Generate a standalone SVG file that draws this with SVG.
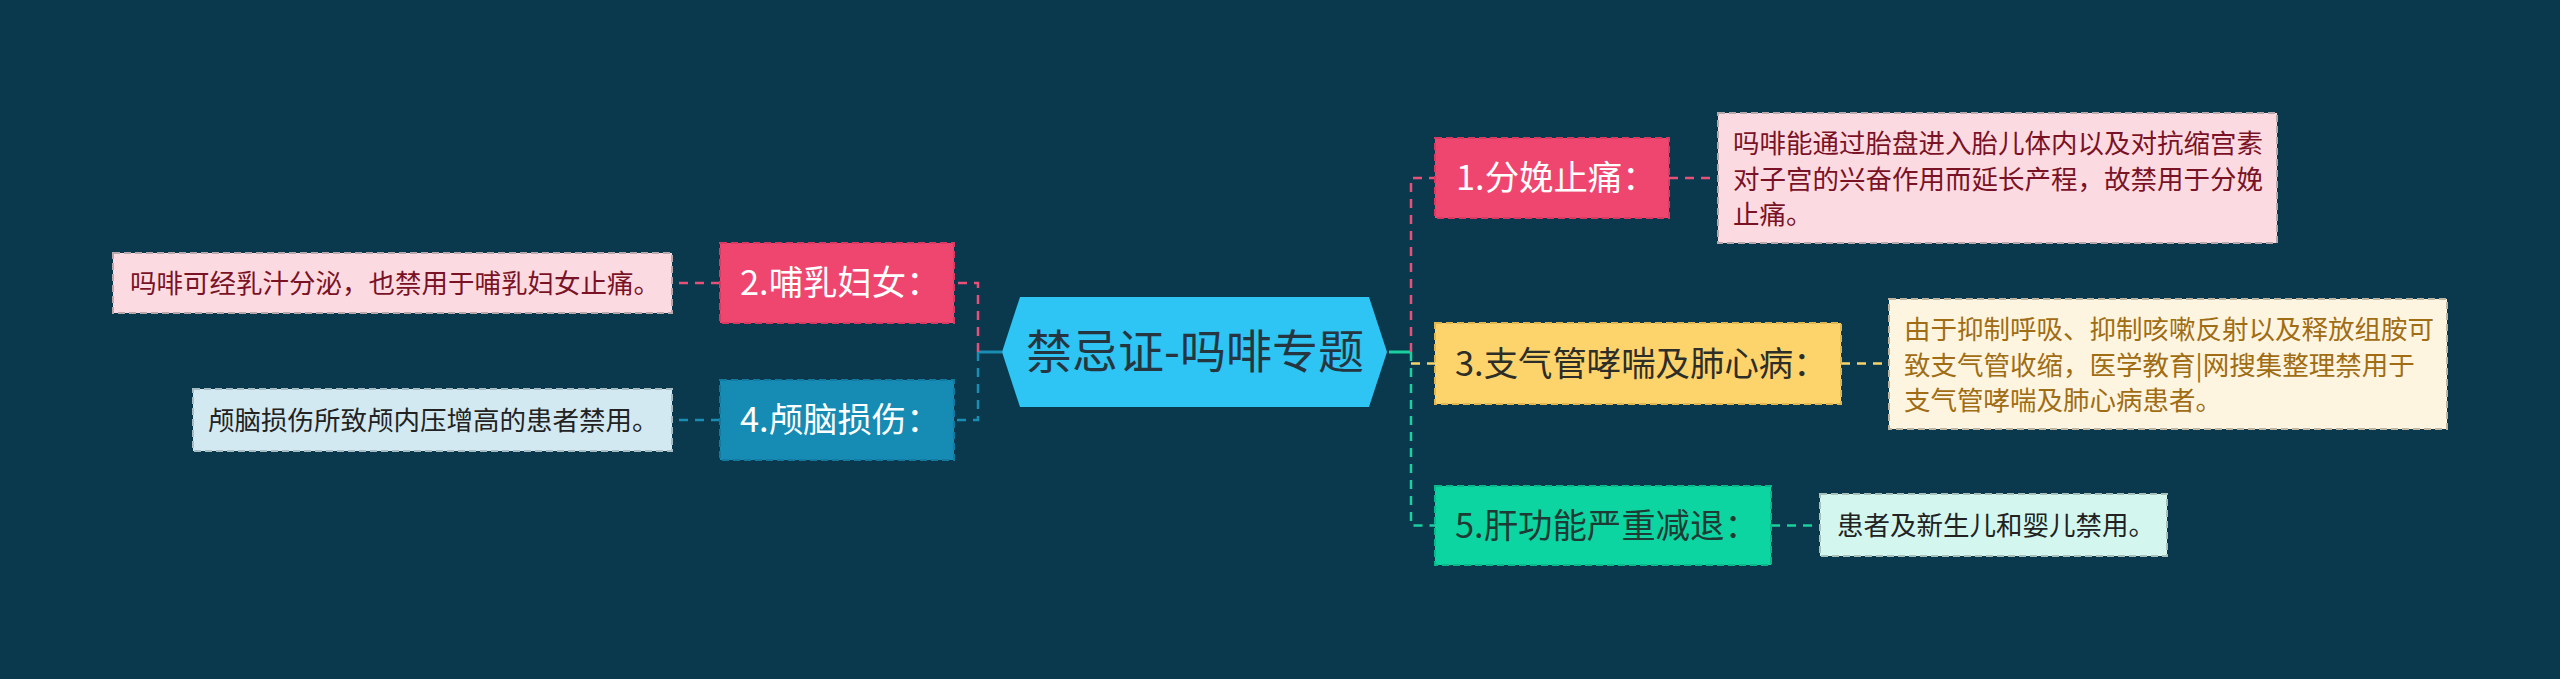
<svg xmlns="http://www.w3.org/2000/svg" width="2560" height="679" viewBox="0 0 2560 679">
<style>
text{font-family:"Noto Sans CJK SC","Noto Sans",sans-serif;}
.n{stroke-width:2;stroke-dasharray:7 4;}
.t{font-size:26.5px;}
.d{fill:none;stroke-width:2.5;stroke-dasharray:9 7;}
.s{fill:none;stroke-width:3;}
.nt{font-size:34.4px;}
</style>
<rect width="2560" height="679" fill="#0a394d"/>
<g id="connectors">
<path class="s" d="M1389,352 H1411" stroke="#1bd0a0"/>
<path class="d" d="M1411,352 V178 H1435" stroke="#e8507a"/>
<path class="d" d="M1411,363.5 H1435" stroke="#f7d36e"/>
<path class="d" d="M1411,352 V525.5 H1435" stroke="#1bd0a0"/>
<path class="d" d="M1669,178 H1718" stroke="#e8507a"/>
<path class="d" d="M1841,363.5 H1889" stroke="#f7d36e"/>
<path class="d" d="M1771,525.5 H1820" stroke="#1bd0a0"/>
<path class="s" d="M1002,352 H978" stroke="#1a8db3"/>
<path class="d" d="M978,352 V283 H954" stroke="#e8507a"/>
<path class="d" d="M978,352 V420 H954" stroke="#1a8db3"/>
<path class="d" d="M720,283 H672" stroke="#e8507a"/>
<path class="d" d="M720,420 H672" stroke="#1a8db3"/>
</g>
<g id="center">
<polygon points="1002,352 1020,297 1369,297 1387,352 1369,407 1020,407" fill="#2ec4f3"/>
<text x="1195" y="368" font-size="46" text-anchor="middle" fill="#263640">禁忌证-吗啡专题</text>
</g>
<g id="node1">
<rect class="n" x="1435" y="138" width="234" height="80" fill="#ef4670" stroke="#d93a62"/>
<text class="nt" x="1456" y="190" fill="#ffffff">1.分娩止痛：</text>
</g>
<g id="note1">
<rect class="n" x="1718" y="113" width="559" height="130" fill="#fbdae1" stroke="#b8a8ac"/>
<text class="t" fill="#7a1226"><tspan x="1733" y="153">吗啡能通过胎盘进入胎儿体内以及对抗缩宫素</tspan><tspan x="1733" y="188.5">对子宫的兴奋作用而延长产程，故禁用于分娩</tspan><tspan x="1733" y="224">止痛。</tspan></text>
</g>
<g id="node3">
<rect class="n" x="1435" y="323" width="406" height="81" fill="#fdd36c" stroke="#e0b650"/>
<text class="nt" x="1455" y="376" fill="#2e2e28">3.支气管哮喘及肺心病：</text>
</g>
<g id="note3">
<rect class="n" x="1889" y="299" width="558" height="130" fill="#fdf5e0" stroke="#bdb5a0"/>
<text class="t" fill="#a06d14"><tspan x="1904" y="339">由于抑制呼吸、抑制咳嗽反射以及释放组胺可</tspan><tspan x="1904" y="374.5">致支气管收缩，医学教育|网搜集整理禁用于</tspan><tspan x="1904" y="410">支气管哮喘及肺心病患者。</tspan></text>
</g>
<g id="node5">
<rect class="n" x="1435" y="486" width="336" height="79" fill="#0dd5a1" stroke="#0bb88a"/>
<text class="nt" x="1455" y="538" fill="#1e3a34">5.肝功能严重减退：</text>
</g>
<g id="note5">
<rect class="n" x="1820" y="494" width="347" height="62" fill="#d3f7ef" stroke="#a8c0ba"/>
<text class="t" x="1837" y="535" fill="#222222">患者及新生儿和婴儿禁用。</text>
</g>
<g id="node2">
<rect class="n" x="720" y="243" width="234" height="80" fill="#ef4670" stroke="#d93a62"/>
<text class="nt" x="740" y="295" fill="#ffffff">2.哺乳妇女：</text>
</g>
<g id="note2">
<rect class="n" x="113" y="253" width="559" height="60" fill="#fbdae1" stroke="#b8a8ac"/>
<text class="t" x="130" y="292.5" fill="#7a1226">吗啡可经乳汁分泌，也禁用于哺乳妇女止痛。</text>
</g>
<g id="node4">
<rect class="n" x="720" y="380" width="234" height="80" fill="#168cb4" stroke="#127aa0"/>
<text class="nt" x="740" y="432" fill="#ffffff">4.颅脑损伤：</text>
</g>
<g id="note4">
<rect class="n" x="193" y="389" width="479" height="62" fill="#d3e9f1" stroke="#a8bcc4"/>
<text class="t" x="208" y="429.5" fill="#222222">颅脑损伤所致颅内压增高的患者禁用。</text>
</g>
</svg>
